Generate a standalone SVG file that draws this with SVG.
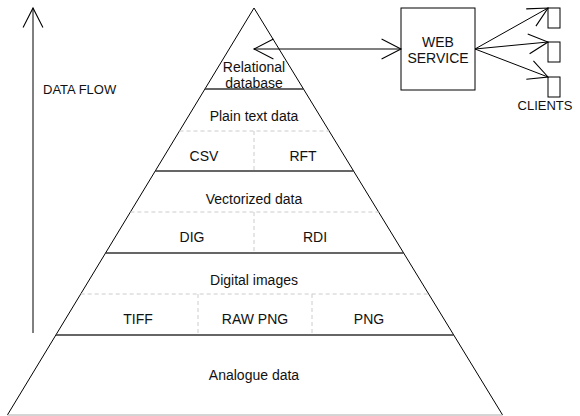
<svg xmlns="http://www.w3.org/2000/svg" width="580" height="416" viewBox="0 0 580 416">
<style>
text{font-family:"Liberation Sans",Arial,sans-serif;font-size:14px;fill:#111;text-anchor:middle}
.edge{fill:none;stroke:#000;stroke-width:1}
.base{stroke:#aaa;stroke-width:1}
.sep{stroke:#333;stroke-width:1.3}
.dash{stroke:#ccc;stroke-width:1;stroke-dasharray:4,3}
.conn{fill:none;stroke:#000;stroke-width:1}
.box{fill:#fff;stroke:#000;stroke-width:1}
</style>
<defs>
<marker id="ah" markerUnits="userSpaceOnUse" markerWidth="24" markerHeight="24" viewBox="-20 -11 22 22" refX="0" refY="0" orient="auto-start-reverse">
<path d="M-17.8,-9.1 L0,0 L-17.8,9.1" fill="none" stroke="#000" stroke-width="1"/>
</marker>
</defs>
<rect width="580" height="416" fill="#fff"/>
<g id="pyramid">
<polyline class="edge" points="7.4,415 254,8 502.6,415"/>
<line class="base" x1="7.4" y1="415" x2="502.6" y2="415"/>
</g>
<g id="relational-database">
<line class="sep" x1="204.9" y1="89" x2="303.5" y2="89"/>
<text x="254" y="72">Relational</text>
<text x="254" y="88">database</text>
</g>
<g id="plain-text-data">
<line class="dash" x1="179.5" y1="131" x2="329.1" y2="131"/>
<line class="dash" x1="254" y1="131" x2="254" y2="171"/>
<line class="sep" x1="155.2" y1="171" x2="353.6" y2="171"/>
<text x="254" y="121">Plain text data</text>
<text x="204" y="161">CSV</text>
<text x="303" y="161">RFT</text>
</g>
<g id="vectorized-data">
<line class="dash" x1="130.4" y1="212" x2="378.6" y2="212"/>
<line class="dash" x1="254" y1="212" x2="254" y2="253"/>
<line class="sep" x1="105.6" y1="253" x2="403.6" y2="253"/>
<text x="254" y="204">Vectorized data</text>
<text x="192" y="242">DIG</text>
<text x="315" y="242">RDI</text>
</g>
<g id="digital-images">
<line class="dash" x1="80.7" y1="294" x2="428.7" y2="294"/>
<line class="dash" x1="198" y1="294" x2="198" y2="335"/>
<line class="dash" x1="312" y1="294" x2="312" y2="335"/>
<line class="sep" x1="55.9" y1="335" x2="453.7" y2="335"/>
<text x="254" y="285">Digital images</text>
<text x="138" y="324">TIFF</text>
<text x="255" y="324">RAW PNG</text>
<text x="369" y="324">PNG</text>
</g>
<g id="analogue-data">
<text x="254" y="380">Analogue data</text>
</g>
<g id="web-service">
<rect class="box" x="401" y="8" width="74" height="82"/>
<text x="438" y="47">WEB</text>
<text x="438" y="63">SERVICE</text>
</g>
<g id="clients">
<rect class="box" x="548" y="8" width="12" height="20"/>
<rect class="box" x="548" y="42" width="12" height="20"/>
<rect class="box" x="548" y="77" width="12" height="20"/>
<text x="545" y="110" style="font-size:13px">CLIENTS</text>
</g>
<g id="data-flow">
<text x="43" y="94" style="text-anchor:start;font-size:13px">DATA FLOW</text>
</g>
<g id="connectors">
<line class="conn" x1="33" y1="333" x2="33" y2="8" marker-end="url(#ah)"/>
<line class="conn" x1="254" y1="49" x2="401" y2="49" marker-start="url(#ah)" marker-end="url(#ah)"/>
<line class="conn" x1="475" y1="49" x2="548" y2="8" marker-end="url(#ah)"/>
<line class="conn" x1="475" y1="49" x2="548" y2="42" marker-end="url(#ah)"/>
<line class="conn" x1="475" y1="49" x2="548" y2="77" marker-end="url(#ah)"/>
</g>
</svg>
